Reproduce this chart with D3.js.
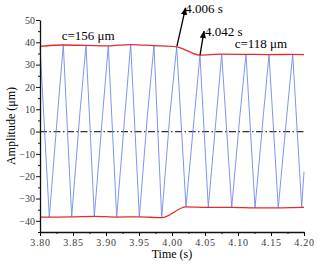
<!DOCTYPE html>
<html>
<head>
<meta charset="utf-8">
<script src="https://cdn.jsdelivr.net/npm/d3@7"></script>
<style>
  body { margin: 0; background: #fff; }
  svg { display: block; }
</style>
</head>
<body>
<svg width="320" height="266"></svg>
<script>
var width = 320, height = 266;

// blue trace (peak, trough, knee, ...)
var waveTime = [3.8000, 3.8141, 3.8266, 3.8353, 3.8480, 3.8605, 3.8697, 3.8823, 3.8948,
                3.9035, 3.9162, 3.9287, 3.9374, 3.9505, 3.9630, 3.9727, 3.9844, 3.9969,
                4.0071, 4.0212, 4.0335, 4.0424, 4.0550, 4.0670, 4.0753, 4.0905, 4.1025,
                4.1121, 4.1258, 4.1380, 4.1470, 4.1610, 4.1735, 4.1829, 4.1965, 4.2000];
var waveAmp = [38.2, -38.3, 8.0, 38.8, -38.2, 8.5, 38.6, -38.0, 7.5,
               38.4, -38.3, 8.0, 39.0, -38.2, 8.2, 38.5, -38.6, 8.0,
               38.0, -33.7, 6.0, 34.3, -34.0, 6.5, 34.7, -34.0, 6.0,
               34.6, -34.2, 6.0, 34.5, -34.2, 6.0, 34.6, -34.0, -18.0];

// red envelopes
var upperTime = [3.800, 3.835, 3.870, 3.9035, 3.937, 3.9727, 4.007, 4.042, 4.075, 4.112, 4.147, 4.183, 4.200];
var upperAmp = [38.2, 38.8, 38.6, 38.4, 39.0, 38.5, 38.0, 34.3, 34.7, 34.6, 34.5, 34.6, 34.5];
var lowerTime = [3.800, 3.814, 3.848, 3.882, 3.916, 3.9505, 3.9844, 4.0212, 4.055, 4.0905, 4.1258, 4.161, 4.1965, 4.200];
var lowerAmp = [-38.3, -38.3, -38.2, -38.0, -38.3, -38.2, -38.6, -33.7, -34.0, -34.0, -34.2, -34.2, -34.0, -34.0];

var xTicks = [3.80, 3.85, 3.90, 3.95, 4.00, 4.05, 4.10, 4.15, 4.20];
var xMinor = [3.825, 3.875, 3.925, 3.975, 4.025, 4.075, 4.125, 4.175];
var yTicks = [-40, -30, -20, -10, 0, 10, 20, 30, 40, 50];
var yMinor = [-45, -35, -25, -15, -5, 5, 15, 25, 35, 45];

// annotations: [label, time, amp] and arrows [fromT, fromA, toT, toA]
var labels = [["c=156 μm", 3.833, 41.0], ["c=118 μm", 4.095, 37.5],
              ["4.006 s", 4.020, 53.3], ["4.042 s", 4.050, 43.0]];
var arrows = [[4.0075, 38.3, 4.0205, 55.4], [4.0425, 34.4, 4.0485, 45.0]];

var svg = d3.select('svg');
var m = {left: 40, right: 16, top: 20, bottom: 34};

var x = d3.scaleLinear().domain([3.8, 4.2]).range([m.left, width - m.right]);
var y = d3.scaleLinear().domain([-45, 50]).range([height - m.bottom, m.top]);

var serif = '"Liberation Serif", "Times New Roman", serif';

// zero line
svg.append('line')
  .attr('x1', x(3.8)).attr('x2', x(4.2))
  .attr('y1', y(0)).attr('y2', y(0))
  .attr('stroke', '#333').attr('stroke-width', 1.2)
  .attr('stroke-dasharray', '7,2.5,1.5,2.5');

var wave = waveTime.map(function(t, i) { return [t, waveAmp[i]]; });
var upper = upperTime.map(function(t, i) { return [t, upperAmp[i]]; });
var lower = lowerTime.map(function(t, i) { return [t, lowerAmp[i]]; });

var line = d3.line().x(function(d) { return x(d[0]); }).y(function(d) { return y(d[1]); });
var smooth = d3.line().curve(d3.curveMonotoneX)
  .x(function(d) { return x(d[0]); }).y(function(d) { return y(d[1]); });

svg.append('path').attr('d', line(wave))
  .attr('fill', 'none').attr('stroke', '#7189ee').attr('stroke-width', 0.9);

svg.selectAll('.env').data([upper, lower]).enter().append('path')
  .attr('class', 'env')
  .attr('d', smooth)
  .attr('fill', 'none').attr('stroke', '#e52b2b').attr('stroke-width', 1.3);

// axes
var gx = svg.append('g').attr('transform', 'translate(0,' + y(-45) + ')');
gx.call(d3.axisBottom(x).tickValues(xTicks).tickSize(4).tickSizeOuter(0).tickFormat(d3.format('.2f')));
gx.append('g').call(d3.axisBottom(x).tickValues(xMinor).tickSize(2).tickFormat(''))
  .select('.domain').remove();

var gy = svg.append('g').attr('transform', 'translate(' + x(3.8) + ',0)');
gy.call(d3.axisLeft(y).tickValues(yTicks).tickSize(4).tickSizeOuter(0));
gy.append('g').call(d3.axisLeft(y).tickValues(yMinor).tickSize(2).tickFormat(''))
  .select('.domain').remove();

svg.selectAll('.domain').attr('stroke', '#111').attr('stroke-width', 1.3);
svg.selectAll('.tick line').attr('stroke', '#111').attr('stroke-width', 1);
svg.selectAll('.tick text')
  .style('font-family', serif).style('font-size', '10px').attr('fill', '#3a3a3a');
gx.selectAll('.tick text').attr('y', 7).style('letter-spacing', '0.8px');
gy.selectAll('.tick text').attr('x', -5);

// axis titles
svg.append('text')
  .attr('x', x(4.0)).attr('y', 258)
  .attr('text-anchor', 'middle')
  .style('font-family', serif).style('font-size', '12px')
  .text('Time (s)');

svg.append('text')
  .attr('transform', 'translate(15,' + y(2.5) + ')rotate(-90)')
  .attr('text-anchor', 'middle')
  .style('font-family', serif).style('font-size', '12px')
  .text('Amplitude (μm)');

// arrows
svg.append('defs').append('marker')
  .attr('id', 'head').attr('viewBox', '0 0 10 10')
  .attr('refX', 9).attr('refY', 5)
  .attr('markerWidth', 6).attr('markerHeight', 6)
  .attr('orient', 'auto')
  .append('path').attr('d', 'M0,1L10,5L0,9Z').attr('fill', '#000');

svg.selectAll('.arrow').data(arrows).enter().append('line')
  .attr('class', 'arrow')
  .attr('x1', function(d) { return x(d[0]); }).attr('y1', function(d) { return y(d[1]); })
  .attr('x2', function(d) { return x(d[2]); }).attr('y2', function(d) { return y(d[3]); })
  .attr('stroke', '#000').attr('stroke-width', 1.3)
  .attr('marker-end', 'url(#head)');

svg.selectAll('.lbl').data(labels).enter().append('text')
  .attr('class', 'lbl')
  .attr('x', function(d) { return x(d[1]); })
  .attr('y', function(d) { return y(d[2]); })
  .style('font-family', serif).style('font-size', '13px')
  .text(function(d) { return d[0]; });
</script>
</body>
</html>
